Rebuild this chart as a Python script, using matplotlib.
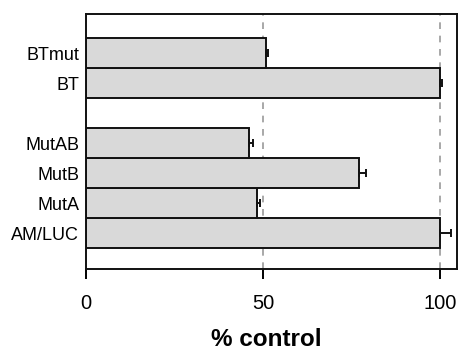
import matplotlib
matplotlib.use("Agg")
import matplotlib.pyplot as plt

categories = ["AM/LUC", "MutA", "MutB", "MutAB", "BT", "BTmut"]
positions = [0, 1, 2, 3, 5, 6]
values = [100, 48.2, 77.1, 46.1, 100, 50.8]
errors = [3.0, 1.0, 2.0, 1.0, 0.5, 0.5]
xticks = [0, 50, 100]

plt.rcParams['font.family'] = ['Liberation Sans', 'DejaVu Sans']

fig = plt.figure(figsize=(4.59, 3.5), dpi=100)
ax = fig.add_axes([86/459, 1 - 269.3/350, (457 - 86)/459, (269.3 - 14)/350])

for x in [50, 100]:
    ax.axvline(x, color='#999999', linestyle=(0, (4, 4)), linewidth=1.2, zorder=0)

ax.barh(positions, values, height=1.0, color='#d9d9d9', edgecolor='#111111',
        linewidth=1.4, zorder=2)
ax.errorbar(values, positions, xerr=[[0]*len(errors), errors], fmt='none',
            ecolor='#111111', elinewidth=1.4, capsize=3, capthick=1.4, zorder=3)

ax.set_xlim(0, 104.8)
ax.set_ylim(-1.2, 7.3)
ax.set_xticks(xticks)
ax.set_xticklabels([str(t) for t in xticks], fontsize=14.5)
ax.set_yticks(positions)
ax.set_yticklabels(categories, fontsize=13)
ax.tick_params(axis='y', length=0, pad=5)
ax.tick_params(axis='x', length=7, width=1.4, pad=11, direction='out')
for s in ax.spines.values():
    s.set_linewidth(1.4)
    s.set_color('#111111')

ax.set_xlabel('% control', fontsize=17.5, fontweight='bold')
ax.xaxis.label.set_va('baseline')
ax.xaxis.set_label_coords((266 - 86) / 371, (269.3 - 346) / 255.3)

fig.savefig('out.png', dpi=100)
